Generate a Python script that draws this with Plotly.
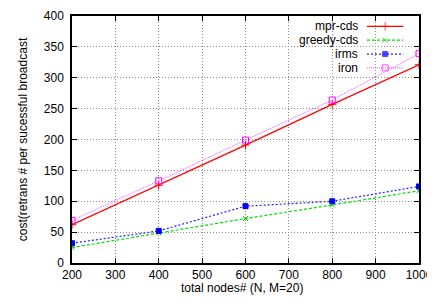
import plotly.graph_objects as go

nodes = [200, 400, 600, 800, 1000]
mpr_cds = [62, 126, 191, 257, 321]
greedy_cds = [25, 49, 72, 94, 117]
irms = [32, 52, 92, 100, 124]
iron = [69, 133, 199, 264, 339]

x_ticks = [200, 300, 400, 500, 600, 700, 800, 900, 1000]
y_ticks = [0, 50, 100, 150, 200, 250, 300, 350, 400]

series = [
    ("mpr-cds", mpr_cds, "#ff0000", "solid", 1.3, "cross-thin", 6, "#ff0000"),
    ("greedy-cds", greedy_cds, "#00e000", "3px,2px", 1.2, "x-thin", 5, "#00d000"),
    ("irms", irms, "#2020ff", "2px,2px", 1.2, "square", 5, "#0000ff"),
    ("iron", iron, "#ff40ff", "1px,1px", 1.0, "square-open", 6, "#ff00ff"),
]

FONT = "Liberation Sans, Arial, Helvetica, sans-serif"

fig = go.Figure()
for name, vals, col, dash, w, sym, sz, mcol in series:
    fig.add_trace(go.Scatter(
        x=nodes, y=vals, mode="lines+markers", name=name,
        line=dict(color=col, dash=dash, width=w),
        marker=dict(symbol=sym, size=sz, color=mcol,
                    line=dict(color=mcol, width=1)),
        showlegend=False,
    ))

axis_common = dict(
    showline=True, linecolor="black", linewidth=1.5, mirror="ticks",
    ticks="inside", ticklen=5, tickcolor="black", tickwidth=1,
    showgrid=True, gridcolor="#8c8c8c", griddash="1px,2px", gridwidth=1,
    zeroline=False, automargin=False, ticklabeloverflow="allow",
    tickfont=dict(family=FONT, size=12, color="black"),
)

# page body has an 8px default margin, so the figure is sized to fit the window
fig.update_layout(
    width=427, height=298,
    margin=dict(l=64, r=16, t=8, b=43, autoexpand=False),
    paper_bgcolor="white", plot_bgcolor="white",
    font=dict(family=FONT, size=12, color="black"),
    xaxis=dict(range=[200, 1000], tickvals=x_ticks,
               ticklabelstandoff=0,
               **axis_common),
    yaxis=dict(range=[0, 400], tickvals=y_ticks,
               title=dict(text="cost(retrans # per sucessful broadcast", standoff=14,
                          font=dict(family=FONT, size=12)),
               ticklabelstandoff=4,
               **axis_common),
)

# x-axis title placed like gnuplot's
fig.add_annotation(xref="paper", yref="paper", x=0.49, y=-0.1,
                   text="total nodes# (N, M=20)", showarrow=False,
                   xanchor="center", yanchor="middle",
                   font=dict(family=FONT, size=12, color="black"))

# key area background (hides grid behind key like gnuplot)
fig.add_shape(type="rect", xref="paper", yref="paper", x0=0.58, x1=0.972,
              y0=0.765, y1=0.995, fillcolor="white", line=dict(width=0),
              layer="between")

# manual key: right-aligned text, then line sample with marker
key_y = [0.958, 0.902, 0.846, 0.790]
for (name, vals, col, dash, w, sym, sz, mcol), ky in zip(series, key_y):
    fig.add_annotation(xref="paper", yref="paper", x=0.827, y=ky, text=name,
                       showarrow=False, xanchor="right", yanchor="middle",
                       borderpad=0,
                       font=dict(family=FONT, size=12, color="black"))
    fig.add_shape(type="line", xref="paper", yref="paper", x0=0.85, x1=0.955,
                  y0=ky, y1=ky, line=dict(color=col, dash=dash, width=w))

# key markers drawn via an overlay axis in paper-like units
fig.add_trace(go.Scatter(
    x=[0.9025] * 4, y=key_y, mode="markers", xaxis="x2", yaxis="y2",
    marker=dict(symbol=[s[5] for s in series], size=[s[6] for s in series],
                color=[s[7] for s in series],
                line=dict(color=[s[7] for s in series], width=1)),
    showlegend=False, hoverinfo="skip",
))
fig.update_layout(
    xaxis2=dict(overlaying="x", range=[0, 1], visible=False, fixedrange=True),
    yaxis2=dict(overlaying="y", range=[0, 1], visible=False, fixedrange=True),
)

fig.write_html("out.html")
